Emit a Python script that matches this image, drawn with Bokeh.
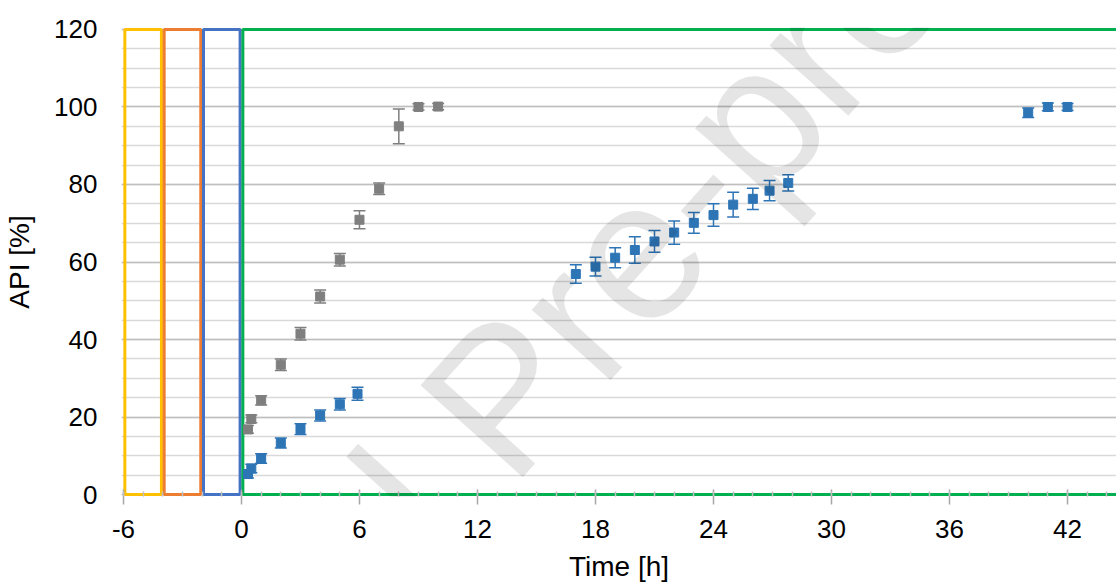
from bokeh.plotting import figure
from bokeh.models import ColumnDataSource, FixedTicker, Whisker, TeeHead, Label, Range1d
from bokeh.embed import file_html
from bokeh.resources import INLINE

# ---------------- data ----------------
gray_t = [0.33, 0.5, 1, 2, 3, 4, 5, 6, 7, 8, 9, 10]
gray_api = [16.8, 19.5, 24.3, 33.5, 41.5, 51.1, 60.6, 70.9, 78.9, 95.0, 100.0, 100.1]
gray_sd = [1.0, 1.0, 1.2, 1.5, 1.6, 1.7, 1.6, 2.3, 1.5, 4.5, 0.8, 0.8]

blue_t = [0.33, 0.5, 1, 2, 3, 4, 5, 5.9,
          17, 18, 19, 20, 21, 22, 23, 24, 25, 26, 26.85, 27.8,
          40, 41, 42]
blue_api = [5.3, 6.7, 9.3, 13.3, 16.9, 20.4, 23.3, 26.0,
            56.9, 58.8, 61.1, 63.1, 65.3, 67.6, 70.1, 72.1, 74.8, 76.3, 78.4, 80.4,
            98.5, 100.0, 100.0]
blue_sd = [1.0, 1.1, 1.2, 1.3, 1.4, 1.4, 1.5, 1.7,
           2.4, 2.4, 2.6, 3.4, 2.8, 3.0, 2.7, 2.9, 3.2, 2.75, 2.6, 2.1,
           1.2, 1.0, 0.9]

phase_start = [-6, -4, -2, 0]
phase_end = [-4, -2, 0, 46]
phase_colors = ["#FFC000", "#ED7D31", "#4472C4", "#00B050"]

x_ticks = [-6, 0, 6, 12, 18, 24, 30, 36, 42]
x_minor = list(range(-6, 45))
y_ticks = [0, 20, 40, 60, 80, 100, 120]
y_minor = list(range(0, 121, 5))

x_title = "Time [h]"
y_title = "API [%]"
watermark = "Journal Pre-proof"

FONT = "Liberation Sans"
GRAY = "#7F7F7F"
BLUE = "#2E75B6"

p = figure(width=1116, height=584, output_backend="svg", toolbar_location=None,
           x_range=Range1d(-6.1, 44.49), y_range=Range1d(-0.5, 120.5),
           min_border_left=121, min_border_right=0, min_border_top=27,
           min_border_bottom=88)
p.outline_line_color = None
p.background_fill_color = "white"
p.border_fill_color = "white"

# grid
p.xgrid.visible = False
p.yaxis.ticker = FixedTicker(ticks=y_ticks, minor_ticks=y_minor)
p.ygrid.grid_line_color = "#BFBFBF"
p.ygrid.grid_line_width = 1.5
p.ygrid.minor_grid_line_color = "#D9D9D9"
p.ygrid.minor_grid_line_width = 1.5

# axes
p.xaxis.ticker = FixedTicker(ticks=x_ticks, minor_ticks=x_minor)
p.xaxis.major_label_overrides = {-6: "-6"}
p.xaxis.axis_line_color = None
p.xaxis.major_tick_line_color = "#A6A6A6"
p.xaxis.major_tick_line_width = 1.5
p.xaxis.major_tick_in = 7
p.xaxis.major_tick_out = 8
p.xaxis.minor_tick_line_color = "#BFBFBF"
p.xaxis.minor_tick_line_width = 1.5
p.xaxis.minor_tick_in = 5
p.xaxis.minor_tick_out = 0
p.xaxis.major_label_standoff = 15
p.xaxis.axis_label = x_title
p.xaxis.axis_label_standoff = 10

p.yaxis.axis_line_color = None
p.yaxis.major_tick_line_color = None
p.yaxis.minor_tick_line_color = None
p.yaxis.major_tick_out = 0
p.yaxis.major_tick_in = 0
p.yaxis.minor_tick_out = 0
p.yaxis.minor_tick_in = 0
p.yaxis.major_label_standoff = 24
p.yaxis.axis_label = y_title
p.yaxis.axis_label_standoff = 16

for ax in (p.xaxis, p.yaxis):
    ax.major_label_text_font = FONT
    ax.major_label_text_font_size = "26px"
    ax.major_label_text_color = "black"
    ax.axis_label_text_font = FONT
    ax.axis_label_text_font_size = "28px"
    ax.axis_label_text_font_style = "normal"
    ax.axis_label_text_color = "black"

# phase boxes
inset = 0.07
p.quad(left=[s + inset for s in phase_start], right=[e - inset for e in phase_end],
       bottom=0, top=120, fill_color=None, line_color=phase_colors, line_width=3)

# error bars + markers
for t, y, sd, col in ((gray_t, gray_api, gray_sd, GRAY), (blue_t, blue_api, blue_sd, BLUE)):
    src = ColumnDataSource(dict(x=t, y=y,
                                upper=[a + b for a, b in zip(y, sd)],
                                lower=[a - b for a, b in zip(y, sd)]))
    w = Whisker(source=src, base="x", upper="upper", lower="lower", dimension="height",
                line_color=col, line_width=1.5,
                upper_head=TeeHead(size=12, line_color=col, line_width=1.5),
                lower_head=TeeHead(size=12, line_color=col, line_width=1.5))
    p.add_layout(w)
    p.scatter("x", "y", source=src, marker="square", size=9, fill_color=col,
              line_color=col)

# watermark
p.add_layout(Label(x=13.2, y=25.0, text=watermark, angle=48, angle_units="deg",
                   text_align="center", text_baseline="alphabetic",
                   text_font=FONT, text_font_size="200px", text_color="black",
                   text_alpha=0.1, level="overlay"))

open("out.html", "w").write(file_html(p, INLINE))
